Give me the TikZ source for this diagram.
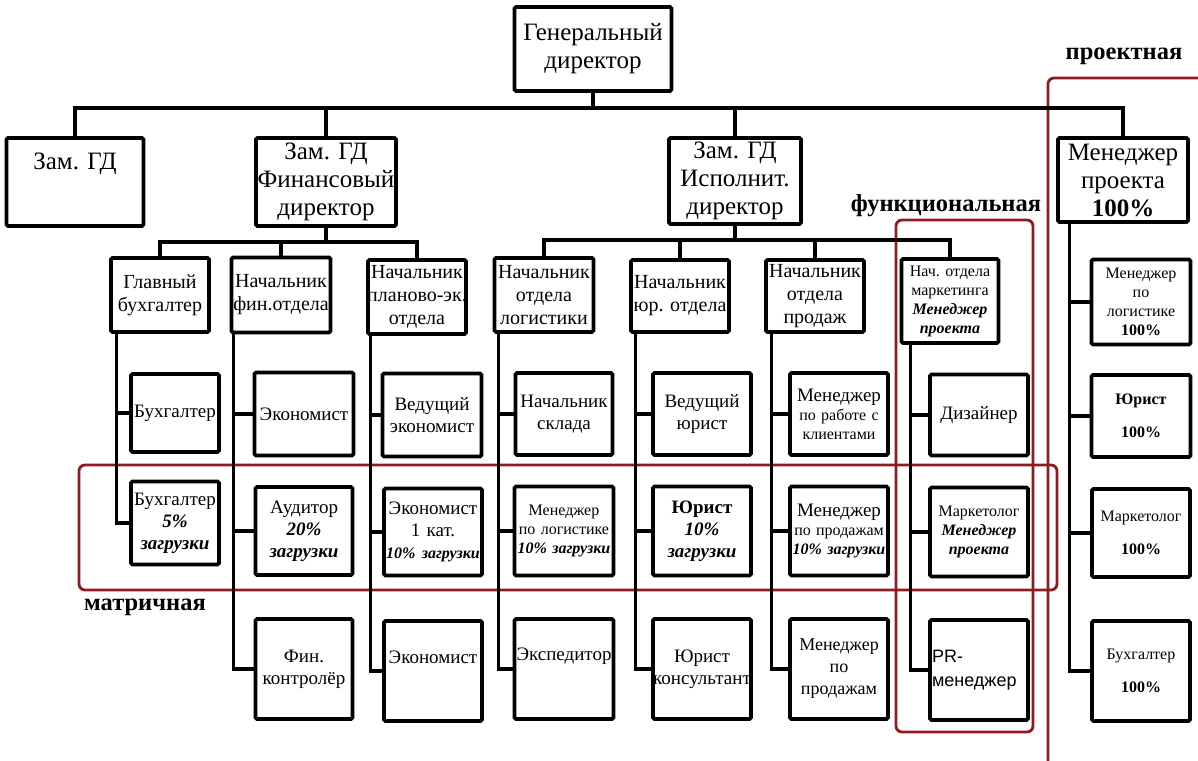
\documentclass[tikz,border=0pt]{standalone}
\usepackage{fontspec}
\setmainfont{Liberation Serif}
\newfontfamily\prfont{Liberation Sans}
\usepackage{tikz}

\definecolor{zoneRed}{HTML}{8E1B1E}
\newcommand{\topfont}{\fontsize{25}{28}\selectfont}
\newcommand{\midfont}{\fontsize{20}{23}\selectfont}
\newcommand{\bodyfont}{\fontsize{19}{22}\selectfont}
\newcommand{\smallfont}{\fontsize{16}{19}\selectfont}
\newcommand{\bi}[1]{\textbf{\textit{#1}}}
\newcommand{\fit}[1]{\makebox[\linewidth]{#1}}
\frenchspacing

\tikzset{
	box/.style={draw, line width=3.7pt, rounded corners=1.5pt, align=center,
		inner xsep=1pt, inner ysep=0pt, font=\bodyfont},
	sz/.style 2 args={minimum width=#1pt, minimum height=#2pt, text width=#1pt-4pt},
	link/.style={line width=3.2pt},
	zone/.style={draw=zoneRed, line width=2.8pt, rounded corners=6pt},
	zonelabel/.style={font=\bfseries\fontsize{24.5}{28}\selectfont},
}

\begin{document}
\begin{tikzpicture}[x=1pt, y=-1pt]
		\useasboundingbox (0,0) rectangle (1198,760);

		% zones
		\draw[zone] (79,465) rectangle (1057,590);
		\draw[zone] (896,220) rectangle (1033,732);
		\draw[zone] (1048,78) rectangle (1220,780);
		\node[zonelabel] (lproj) at (1124,56) {проектная};
		\node[zonelabel] (lfunc) at (946,206) {функциональная};
		\node[zonelabel] (lmatr) at (145,607) {матричная};

		% top levels
		\node[box, font=\topfont, sz={157}{84}] (gd) at (593,49) {Генеральный\\директор};
		\node[box, font=\topfont, sz={137}{88}] (zam) at (75,182) {Зам. ГД\\[6pt]\strut};
		\node[box, font=\topfont, sz={140}{88}] (fin) at (326,182) {Зам. ГД\\\fit{Финансовый}\\директор};
		\node[box, font=\topfont, sz={132}{86}] (isp) at (735,181) {Зам. ГД\\Исполнит.\\директор};
		\node[box, font=\topfont, sz={130}{84}] (mp) at (1123,180) {Менеджер\\проекта\\\textbf{100\%}};

		% heads of departments
		\node[box, font=\midfont, sz={98}{74}] (glb) at (160,295) {Главный\\\fit{бухгалтер}};
		\node[box, font=\midfont, sz={99}{75}] (nfin) at (281,295) {\fit{Начальник}\\\fit{фин.отдела}};
		\node[box, font=\midfont, sz={98}{74}] (npl) at (417,297) {\fit{Начальник}\\\fit{планово-эк.}\\отдела};
		\node[box, font=\midfont, sz={99}{74}] (nlog) at (544,295) {\fit{Начальник}\\отдела\\\fit{логистики}};
		\node[box, font=\midfont, sz={98}{72}] (nyur) at (680,296) {\fit{Начальник}\\\fit{юр. отдела}};
		\node[box, font=\midfont, sz={98}{72}] (nprod) at (815,296) {\fit{Начальник}\\отдела\\продаж};
		\node[box, font=\smallfont, sz={97}{84}] (nmark) at (950,301) {\fit{Нач. отдела}\\маркетинга\\{\bfseries\itshape Менеджер\\проекта}};
		\node[box, font=\smallfont, sz={99}{85}] (mlog100) at (1141,302) {Менеджер\\по\\логистике\\\textbf{100\%}};

		% first row
		\node[box, sz={88}{78}] (buh) at (175,413) {\fit{Бухгалтер}};
		\node[box, sz={99}{83}] (ekon) at (304,414) {\fit{Экономист}};
		\node[box, sz={99}{83}] (vekon) at (432,415) {Ведущий\\\fit{экономист}};
		\node[box, sz={97}{82}] (nskl) at (564,414) {\fit{Начальник}\\склада};
		\node[box, sz={98}{82}] (vyur) at (702,414) {Ведущий\\юрист};
		\node[box, font=\smallfont, sz={98}{82}] (mklient) at (839,414) {{\bodyfont Менеджер}\\\fit{по работе с}\\клиентами};
		\node[box, sz={98}{81}] (diz) at (979,415) {Дизайнер};
		\node[box, font=\smallfont, sz={99}{82}] (yur100) at (1141,416) {\textbf{Юрист}\\[14pt]\textbf{100\%}};

		% second row
		\node[box, sz={88}{83}] (buh5) at (175,523) {\fit{Бухгалтер}\\\bi{5\%}\\\fit{\bi{загрузки}}};
		\node[box, sz={97}{88}] (aud) at (304,531) {Аудитор\\\bi{20\%}\\\bi{загрузки}};
		\node[box, sz={98}{87}] (ekon1) at (433,532) {\fit{Экономист}\\1 кат.\\\fit{\smallfont\bi{10\% загрузки}}};
		\node[box, font=\smallfont, sz={99}{89}] (mlog10) at (564,531) {Менеджер\\\fit{по логистике}\\\fit{\bi{10\% загрузки}}};
		\node[box, sz={98}{89}] (yur10) at (702,531) {\textbf{Юрист}\\\bi{10\%}\\\bi{загрузки}};
		\node[box, font=\smallfont, sz={98}{89}] (mprod10) at (839,531) {{\bodyfont Менеджер}\\\fit{по продажам}\\\fit{\bi{10\% загрузки}}};
		\node[box, font=\smallfont, sz={98}{89}] (mark) at (979,532) {\fit{Маркетолог}\\{\bfseries\itshape Менеджер\\проекта}};
		\node[box, font=\smallfont, sz={98}{88}] (mark100) at (1141,533) {\fit{Маркетолог}\\[14pt]\textbf{100\%}};

		% third row
		\node[box, sz={97}{100}] (fink) at (304,669) {Фин.\\\fit{контролёр}};
		\node[box, sz={98}{100}] (ekon2) at (433,671) {\fit{Экономист}\\\strut};
		\node[box, sz={99}{100}] (eksp) at (564,669) {\fit{Экспедитор}\\\strut};
		\node[box, sz={98}{100}] (yurk) at (702,669) {Юрист\\\fit{консультант}};
		\node[box, font=\fontsize{18}{22}\selectfont, sz={98}{100}] (mprod) at (839,669) {Менеджер\\по\\продажам};
		\node[box, font=\prfont\fontsize{18}{24}\selectfont, align=left, sz={98}{100}] (pr) at (979,670) {PR-\\менеджер};
		\node[box, font=\smallfont, sz={98}{100}] (buh100) at (1141,671) {Бухгалтер\\[14pt]\textbf{100\%}};

		% buses
		\coordinate (bus0) at (0,108);
		\coordinate (bus1) at (0,242);
		\coordinate (bus2) at (0,240);
		\draw[link] (gd.south) -- (gd.south |- bus0);
		\draw[link] (zam.north) |- (bus0 -| mp.north) -- (mp.north);
		\foreach \n in {fin, isp}
			\draw[link] (\n.north) -- (\n.north |- bus0);

		\draw[link] (fin.south) -- (fin.south |- bus1);
		\draw[link] (glb.north) |- (bus1 -| npl.north) -- (npl.north);
		\draw[link] (nfin.north) -- (nfin.north |- bus1);

		\draw[link] (isp.south) -- (isp.south |- bus2);
		\draw[link] (nlog.north) |- (bus2 -| nmark.north) -- (nmark.north);
		\foreach \n in {nyur, nprod}
			\draw[link] (\n.north) -- (\n.north |- bus2);

		% columns under the heads
		\foreach \p/\s in {glb/7, nfin/4, npl/4, nlog/6, nyur/6, nprod/7, nmark/11, mp/13}
			\coordinate (\p-col) at ([xshift=\s pt]\p.south west);
		\foreach \p/\c in {glb/buh, glb/buh5, nfin/ekon, nfin/aud, nfin/fink,
				npl/vekon, npl/ekon1, npl/ekon2, nlog/nskl, nlog/mlog10, nlog/eksp,
				nyur/vyur, nyur/yur10, nyur/yurk, nprod/mklient, nprod/mprod10, nprod/mprod,
				nmark/diz, nmark/mark, nmark/pr, mp/mlog100, mp/yur100, mp/mark100, mp/buh100}
			\draw[link] (\c.west) -| (\p-col);
	\end{tikzpicture}
\end{document}
